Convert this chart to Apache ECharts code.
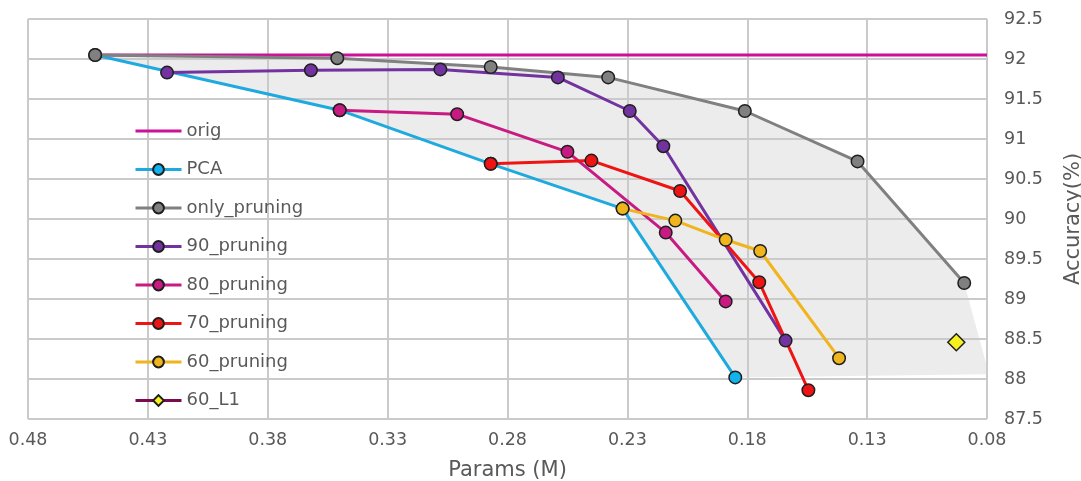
<!DOCTYPE html>
<html>
<head>
<meta charset="utf-8">
<script src="https://cdn.jsdelivr.net/npm/echarts@6/dist/echarts.min.js"></script>
<style>
  html, body { margin: 0; padding: 0; background: #ffffff; overflow: hidden; }
  #chart { width: 1081px; height: 481px; }
</style>
</head>
<body>
<div id="chart"></div>
<script>
// Params (M) and accuracy (%) for every model variant
const origParams = [0.452, 0.08];
const origAcc = [92.05, 92.05];

const pcaParams = [0.452, 0.350, 0.287, 0.232, 0.185];
const pcaAcc = [92.05, 91.36, 90.69, 90.13, 88.02];

const onlyParams = [0.452, 0.351, 0.287, 0.238, 0.181, 0.134, 0.0895];
const onlyAcc = [92.05, 92.01, 91.90, 91.77, 91.35, 90.72, 89.20];

const p90Params = [0.422, 0.362, 0.308, 0.259, 0.229, 0.215, 0.164];
const p90Acc = [91.83, 91.86, 91.87, 91.77, 91.35, 90.91, 88.48];

const p80Params = [0.350, 0.301, 0.255, 0.214, 0.189];
const p80Acc = [91.36, 91.31, 90.84, 89.83, 88.97];

const p70Params = [0.287, 0.245, 0.208, 0.175, 0.1545];
const p70Acc = [90.69, 90.73, 90.35, 89.21, 87.86];

const p60Params = [0.232, 0.210, 0.189, 0.1746, 0.1417];
const p60Acc = [90.13, 89.98, 89.74, 89.60, 88.26];

const l1Params = [0.0928];
const l1Acc = [88.46];

// Outline of the shaded region: upper edge follows only_pruning, lower edge
// runs back along PCA
const shadeParams = onlyParams.concat([0.08, 0.08]).concat(pcaParams.slice().reverse());
const shadeAcc = onlyAcc.concat([88.15, 88.06]).concat(pcaAcc.slice().reverse());

const xTicks = ['0.48', '0.43', '0.38', '0.33', '0.28', '0.23', '0.18', '0.13', '0.08'];

const zip = (xs, ys) => xs.map((x, i) => [x, ys[i]]);

const FONT = 'DejaVu Sans';
const TEXT = '#595959';
const GRID = '#cacaca';
const EDGE = '#1f1f1f';

function lineSeries(name, xs, ys, color, marker, symbol) {
  const plain = symbol === 'none';
  return {
    name: name,
    type: 'line',
    data: zip(xs, ys),
    symbol: plain ? 'circle' : (symbol || 'circle'),
    symbolSize: symbol === 'diamond' ? 17 : 12.5,
    showSymbol: !plain,
    lineStyle: { color: color, width: 3 },
    itemStyle: plain
      ? { color: 'rgba(0,0,0,0)', borderWidth: 0 }
      : { color: marker || color, borderColor: EDGE, borderWidth: 1.5 },
    emphasis: { disabled: true },
    animation: false
  };
}

const chart = echarts.init(document.getElementById('chart'), null, { renderer: 'canvas' });

chart.setOption({
  backgroundColor: '#ffffff',
  animation: false,
  grid: { left: 28, right: 94, top: 19, bottom: 62, containLabel: false, outerBoundsMode: 'none' },
  legend: {
    orient: 'vertical',
    left: 129,
    top: 117,
    itemWidth: 46,
    itemHeight: 13.5,
    itemGap: 20.5,
    lineStyle: { width: 3 },
    textStyle: { fontFamily: FONT, fontSize: 18, color: TEXT },
    data: ['orig', 'PCA', 'only_pruning', '90_pruning', '80_pruning', '70_pruning', '60_pruning', '60_L1']
  },
  xAxis: {
    type: 'value',
    inverse: true,
    min: 0.08,
    max: 0.48,
    interval: 0.05,
    name: 'Params (M)',
    nameLocation: 'middle',
    nameGap: 41,
    nameTextStyle: { fontFamily: FONT, fontSize: 21, color: TEXT },
    axisLine: { show: false },
    axisTick: { show: false },
    axisLabel: {
      fontFamily: FONT, fontSize: 17.5, color: TEXT, margin: 12,
      formatter: v => {
        const s = v.toFixed(2);
        return xTicks.indexOf(s) >= 0 ? s : '';
      }
    },
    splitLine: { show: true, lineStyle: { color: GRID, width: 2 } }
  },
  yAxis: {
    type: 'value',
    position: 'right',
    min: 87.5,
    max: 92.5,
    interval: 0.5,
    name: 'Accuracy(%)',
    nameLocation: 'middle',
    nameRotate: 90,
    nameGap: 76,
    nameTextStyle: { fontFamily: FONT, fontSize: 21, color: TEXT },
    axisLine: { show: false },
    axisTick: { show: false },
    axisLabel: { fontFamily: FONT, fontSize: 17.5, color: TEXT, margin: 17 },
    splitLine: { show: true, lineStyle: { color: GRID, width: 2 } }
  },
  series: [
    {
      name: 'region',
      type: 'custom',
      z: -1,
      silent: true,
      data: [0],
      renderItem: (params, api) => ({
        type: 'polygon',
        shape: { points: zip(shadeParams, shadeAcc).map(p => api.coord(p)) },
        style: { fill: '#ececec' }
      })
    },
    lineSeries('orig', origParams, origAcc, '#cc1199', null, 'none'),
    lineSeries('PCA', pcaParams, pcaAcc, '#1eaade', '#12b2ec'),
    lineSeries('only_pruning', onlyParams, onlyAcc, '#808080'),
    lineSeries('90_pruning', p90Params, p90Acc, '#7232a0'),
    lineSeries('80_pruning', p80Params, p80Acc, '#c81a82'),
    lineSeries('70_pruning', p70Params, p70Acc, '#ee1414'),
    lineSeries('60_pruning', p60Params, p60Acc, '#f0b41c'),
    lineSeries('60_L1', l1Params, l1Acc, '#7a0b4f', '#f5f01e', 'diamond')
  ]
});
</script>
</body>
</html>
